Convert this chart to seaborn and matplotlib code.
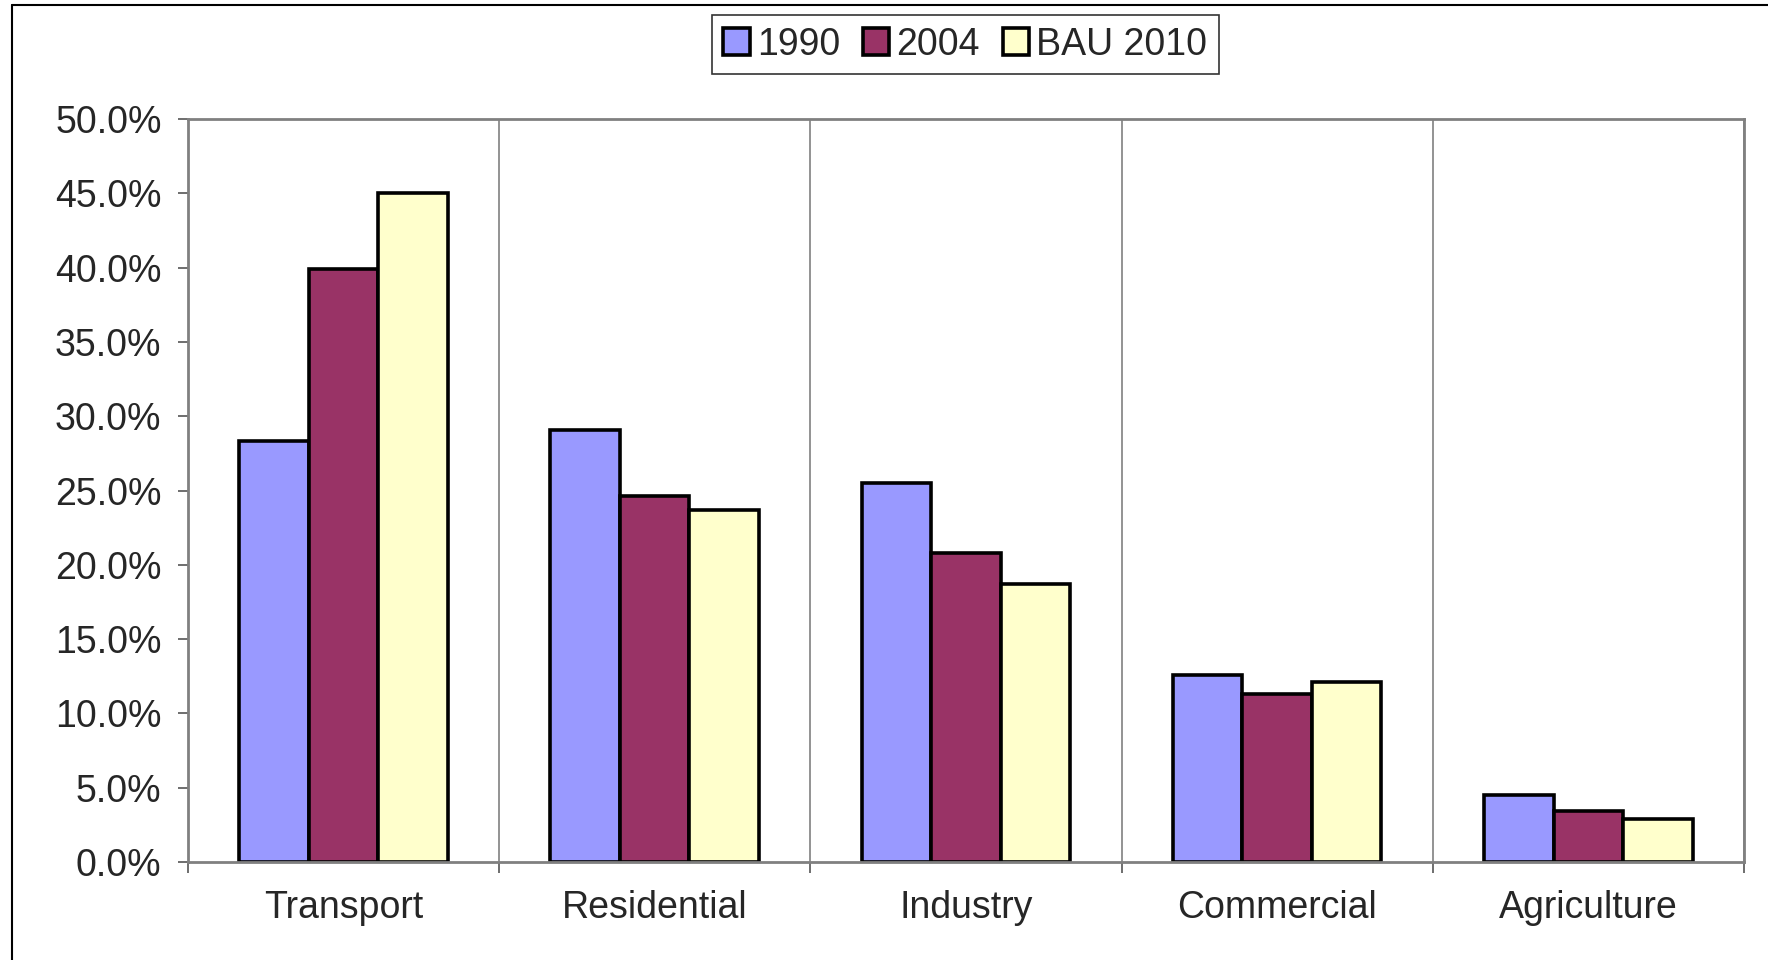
import pandas as pd
import matplotlib.pyplot as plt
import seaborn as sns
from matplotlib.ticker import PercentFormatter, FixedLocator
from matplotlib.lines import Line2D

# Chart data (share of emissions by sector)
sectors = ['Transport', 'Residential', 'Industry', 'Commercial', 'Agriculture']
share_1990 = [28.3, 29.1, 25.5, 12.6, 4.5]
share_2004 = [39.9, 24.6, 20.8, 11.3, 3.4]
share_bau2010 = [45.0, 23.7, 18.7, 12.1, 2.9]
series = ['1990', '2004', 'BAU 2010']
colors = {'1990': '#9999FF', '2004': '#993366', 'BAU 2010': '#FFFFCC'}

df = pd.DataFrame({
    'Sector': sectors * 3,
    'Year': [s for s in series for _ in sectors],
    'Share': share_1990 + share_2004 + share_bau2010,
})

sns.set_style('white')
plt.rcParams['font.family'] = ['Liberation Sans', 'DejaVu Sans']

fig = plt.figure(figsize=(17.68, 9.6), dpi=100)
ax = fig.add_axes([0.1063, 0.1021, 0.8801, 0.7739])

sns.barplot(data=df, x='Sector', y='Share', hue='Year', hue_order=series,
            palette=colors, width=0.67, edgecolor='black', linewidth=2.6,
            saturation=1, ax=ax)

ax.set_xlim(-0.5, 4.5)
ax.set_ylim(0, 50)
ax.set_yticks(range(0, 51, 5))
ax.yaxis.set_major_formatter(PercentFormatter(decimals=1))
ax.tick_params(axis='y', labelsize=27, direction='out', length=7, width=1.2,
               color='#555555', left=True, pad=12)
ax.tick_params(axis='x', which='major', labelsize=27, length=0, pad=20)
ax.xaxis.set_minor_locator(FixedLocator([-0.5, 0.5, 1.5, 2.5, 3.5, 4.5]))
ax.tick_params(axis='x', which='minor', direction='out', length=8, width=1.2,
               color='#555555', bottom=True)
ax.grid(axis='x', which='minor', color='#808080', linewidth=1.2)
ax.grid(axis='y', visible=False)
ax.set_xlabel('')
ax.set_ylabel('')
for sp in ax.spines.values():
    sp.set_color('#808080')
    sp.set_linewidth(2)
    sp.set_visible(True)

handles, labels = ax.get_legend_handles_labels()
ax.get_legend().remove()
leg = fig.legend(handles, labels, loc='upper center', bbox_to_anchor=(0.546, 0.984),
                 borderaxespad=0, ncol=3, fontsize=27, frameon=True, fancybox=False,
                 handlelength=0.7, handleheight=0.7, handletextpad=0.2,
                 columnspacing=0.6, borderpad=0.3, edgecolor='black')
leg.get_frame().set_linewidth(1.2)

# outer chart border (left and top edges visible)
fig.add_artist(Line2D([12 / 1768, 12 / 1768], [0, 1 - 5 / 960], color='black', lw=1.5))
fig.add_artist(Line2D([12 / 1768, 1], [1 - 5 / 960, 1 - 5 / 960], color='black', lw=1.5))

fig.savefig('out.png', dpi=100)
